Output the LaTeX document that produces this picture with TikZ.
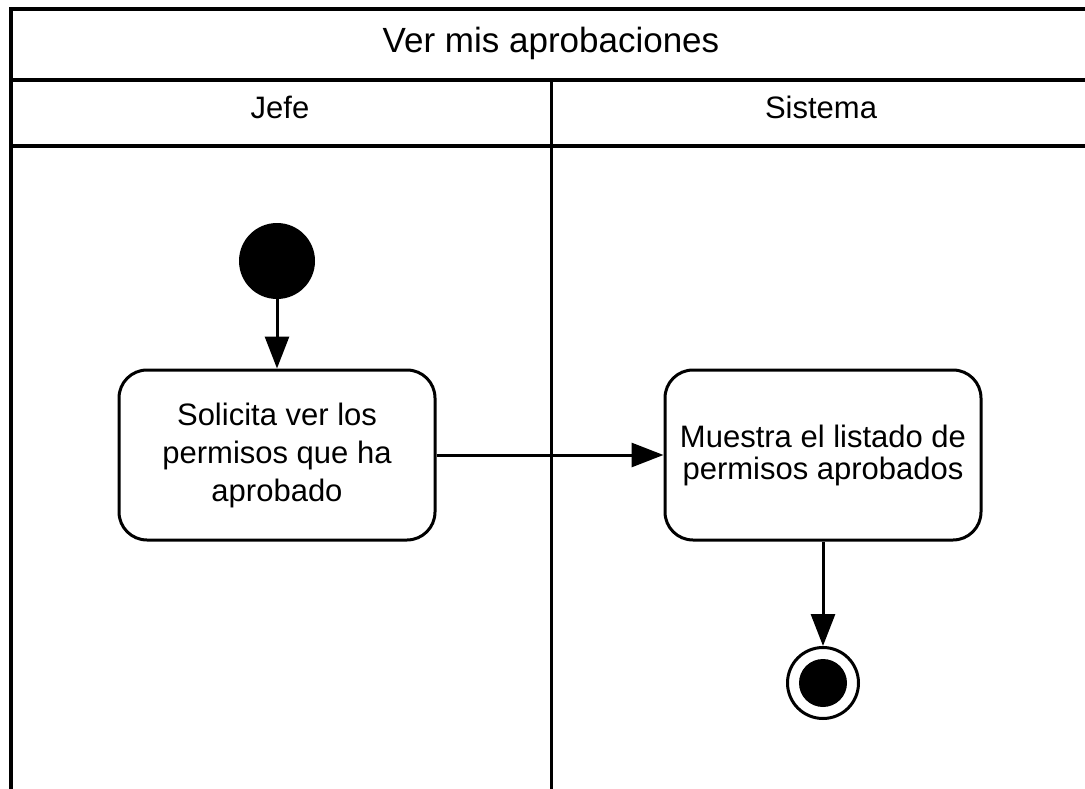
\documentclass[tikz,border=0pt]{standalone}
\usepackage{fontspec}
\setmainfont{Liberation Sans}
\usetikzlibrary{arrows.meta}
\tikzset{
  lane/.style={line width=4pt},
  divider/.style={line width=3pt},
  ktitle/.style={anchor=base, font=\fontsize{35}{41}\selectfont},
  khead/.style={anchor=base, font=\fontsize{31}{37}\selectfont},
  kaction/.style={draw, line width=3pt, rounded corners=28pt, align=center, minimum width=316pt, minimum height=170pt, font=\fontsize{31}{38}\selectfont},
  kstart/.style={circle, fill=black, minimum size=76pt, inner sep=0pt},
  kend/.style={circle, draw, line width=3pt, minimum size=71pt, inner sep=0pt},
  kdot/.style={circle, fill=black, minimum size=48pt, inner sep=0pt},
  flow/.style={-{Triangle[length=32pt, width=24pt]}, line width=3pt},
}

\begin{document}
\begin{tikzpicture}[x=1pt, y=-1pt]
    \useasboundingbox (0,0) rectangle (1085,789);
    \clip (0,0) rectangle (1085,789);
    \draw[lane] (11,820) -- (11,9) -- (1100,9);
    \draw[lane] (11,80.5) -- (1100,80.5);
    \draw[lane] (11,146) -- (1100,146);
    \draw[divider] (551,80.5) -- (551,820);
    \node[ktitle] (title) at (551,53) {Ver mis aprobaciones};
    \node[khead] (jefe) at (280,119) {Jefe};
    \node[khead] (sistema) at (821,119) {Sistema};
    \node[kstart] (start) at (277,261) {};
    \node[kaction] (solicita) at (277,455) {Solicita ver los\\permisos que ha\\aprobado};
    \node[kaction, font=\fontsize{31}{32}\selectfont] (muestra) at (823,455) {Muestra el listado de\\permisos aprobados};
    \node[kend] (end) at (823,683) {};
    \node[kdot] (enddot) at (end) {};
    \draw[flow] (start) -- (solicita);
    \draw[flow] (solicita) -- (muestra);
    \draw[flow] (muestra) -- (end);
  \end{tikzpicture}
\end{document}
